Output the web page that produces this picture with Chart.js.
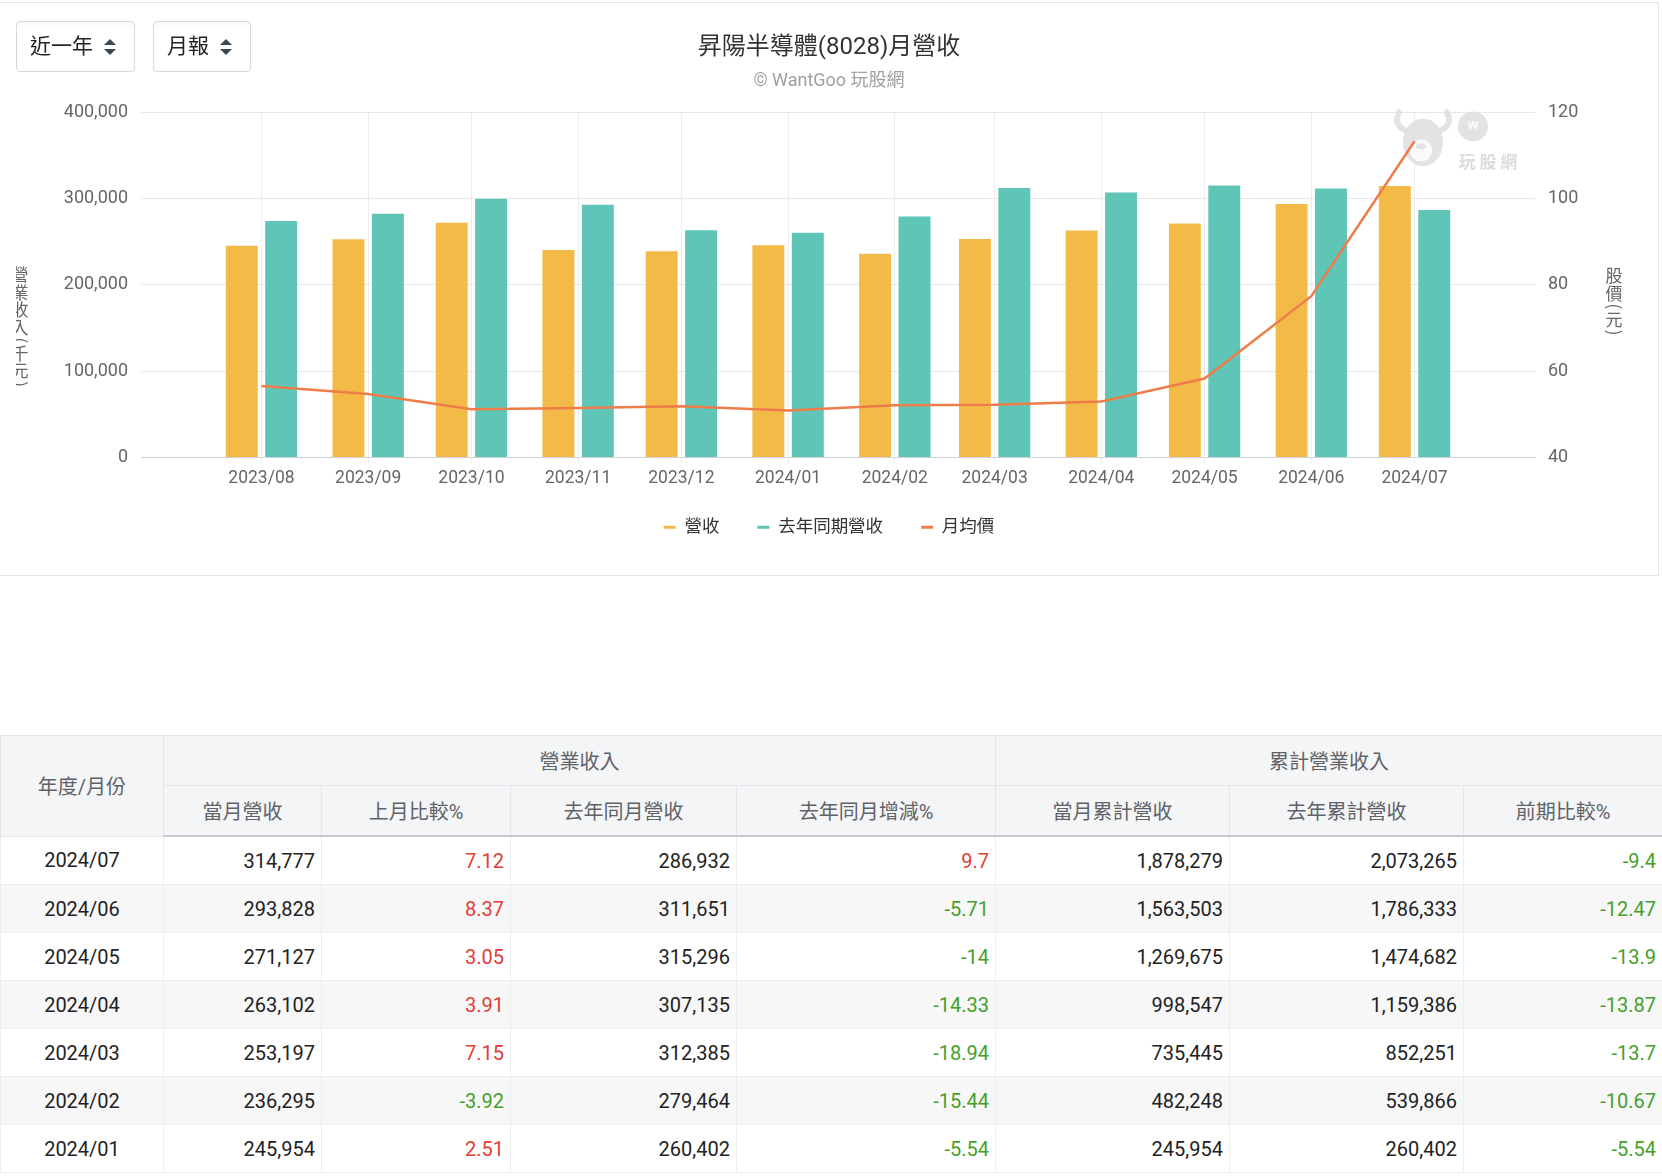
<!DOCTYPE html>
<html lang="zh-Hant">
<head>
<meta charset="utf-8">
<title>昇陽半導體(8028)月營收</title>
<script src="https://cdn.jsdelivr.net/npm/chart.js@4.4.1/dist/chart.umd.min.js"></script>
<style>
  body {
    margin: 0;
    width: 1662px;
    height: 1176px;
    position: relative;
    overflow: hidden;
    background: #fff;
    font-family: Roboto, "Noto Sans CJK TC", sans-serif;
  }
  .card {
    position: absolute;
    left: -1px;
    top: 2px;
    width: 1659px;
    height: 572px;
    border: 1px solid #e3e4e8;
    border-left: none;
  }
  #revChart { position: absolute; left: 0; top: 5px; }
  .sel {
    position: absolute;
    top: 21px;
    height: 51px;
    box-sizing: border-box;
    border: 1px solid #d4d7dc;
    border-radius: 4px;
    background: linear-gradient(#f6f7f8, #fff 14%);
    color: #222;
    font-size: 21px;
    line-height: 49px;
    padding-left: 13px;
  }
  .sel .arrow {
    position: absolute;
    right: 18px;
    top: 17px;
    width: 12px;
    height: 16px;
  }
  .sel .arrow::before, .sel .arrow::after {
    content: "";
    position: absolute;
    left: 0;
    border-left: 6px solid transparent;
    border-right: 6px solid transparent;
  }
  .sel .arrow::before { top: 0; border-bottom: 6px solid #3c4858; }
  .sel .arrow::after { bottom: 0; border-top: 6px solid #3c4858; }
  table {
    position: absolute;
    left: 0;
    top: 735px;
    width: 1662px;
    border-collapse: collapse;
    table-layout: fixed;
    font-size: 20px;
  }
  th {
    background: #f4f5f7;
    color: #5f6368;
    font-weight: normal;
    height: 49px;
    padding: 0;
    border: 1px solid #e3e5e9;
  }
  thead tr:last-child th { border-bottom: 2px solid #c6c9cf; }
  td {
    height: 47px;
    padding: 0 6px 0 0;
    border: 1px solid #eceef1;
    text-align: right;
    color: #222;
  }
  td:first-child { text-align: center; padding: 0; }
  tbody tr:nth-child(even) td { background: #f7f7f8; }
  .up { color: #e23d35; }
  .down { color: #45a02a; }
</style>
</head>
<body>
<div class="card"></div>
<canvas id="revChart" width="1658" height="570"></canvas>
<div class="sel" style="left:16px;width:119px;">近一年<span class="arrow"></span></div>
<div class="sel" style="left:153px;width:98px;">月報<span class="arrow"></span></div>

<table id="revTable">
  <colgroup>
    <col style="width:163px"><col style="width:158px"><col style="width:189px"><col style="width:226px">
    <col style="width:259px"><col style="width:234px"><col style="width:234px"><col style="width:199px">
  </colgroup>
  <thead>
    <tr><th rowspan="2">年度/月份</th><th colspan="4">營業收入</th><th colspan="3">累計營業收入</th></tr>
    <tr><th>當月營收</th><th>上月比較%</th><th>去年同月營收</th><th>去年同月增減%</th><th>當月累計營收</th><th>去年累計營收</th><th>前期比較%</th></tr>
  </thead>
  <tbody></tbody>
</table>

<script>
// chart data (千元 / 元)
const months = ['2023/08', '2023/09', '2023/10', '2023/11', '2023/12', '2024/01',
                '2024/02', '2024/03', '2024/04', '2024/05', '2024/06', '2024/07'];
const revenue = [245500, 253000, 272000, 240500, 239000, 245954,
                 236295, 253197, 263102, 271127, 293828, 314777];
const lastYearRevenue = [274000, 282500, 300000, 293000, 263500, 260402,
                         279464, 312385, 307135, 315296, 311651, 286932];
const avgPrice = [56.6, 54.7, 51.2, 51.5, 51.9, 50.9, 52.1, 52.2, 53.0, 58.3, 77.4, 113.3];

const yTitle = '營業收入(千元)';
const y1Title = '股價(元)';

// table data
const tableMonths = ['2024/07', '2024/06', '2024/05', '2024/04', '2024/03', '2024/02', '2024/01'];
const monthRev = [314777, 293828, 271127, 263102, 253197, 236295, 245954];
const momPct = [7.12, 8.37, 3.05, 3.91, 7.15, -3.92, 2.51];
const lastYearMonthRev = [286932, 311651, 315296, 307135, 312385, 279464, 260402];
const yoyPct = [9.7, -5.71, -14, -14.33, -18.94, -15.44, -5.54];
const cumRev = [1878279, 1563503, 1269675, 998547, 735445, 482248, 245954];
const lastYearCumRev = [2073265, 1786333, 1474682, 1159386, 852251, 539866, 260402];
const cumPct = [-9.4, -12.47, -13.9, -13.87, -13.7, -10.67, -5.54];

// the x axis is a date axis: days since the first month
function dayOf(m) {
  const [y, mo] = m.split('/').map(Number);
  return (Date.UTC(y, mo - 1, 1) - Date.UTC(2023, 7, 1)) / 86400000;
}
const xDays = months.map(dayOf);

Chart.defaults.font.family = 'Roboto, "Noto Sans CJK TC", sans-serif';
Chart.defaults.color = '#666';

function drawVertical(ctx, text, cx, top, size, pitch) {
  ctx.save();
  ctx.font = size + 'px "Noto Sans CJK TC"';
  ctx.fillStyle = '#666';
  ctx.textAlign = 'center';
  ctx.textBaseline = 'middle';
  let y = top;
  for (const ch of text) {
    if (ch === '(' || ch === ')') {
      const w = ctx.measureText(ch).width + 3;
      ctx.save();
      ctx.translate(cx, y + w / 2);
      ctx.rotate(Math.PI / 2);
      ctx.fillText(ch, 0, 0);
      ctx.restore();
      y += w;
    } else {
      ctx.fillText(ch, cx, y + pitch / 2);
      y += pitch;
    }
  }
  ctx.restore();
}

const axisTitles = {
  id: 'axisTitles',
  afterDraw(chart) {
    const { ctx, chartArea } = chart;
    ctx.save();
    ctx.beginPath();
    ctx.rect(16, 0, chart.width, chart.height);
    ctx.clip();
    drawVertical(ctx, yTitle, chartArea.left - 121, 261, 17, 17.5);
    ctx.restore();
    drawVertical(ctx, y1Title, chartArea.right + 79, 262, 17, 17.5);
  }
};

// faint site logo behind the series
const watermark = {
  id: 'watermark',
  beforeDatasetsDraw(chart) {
    const { ctx, chartArea } = chart;
    const x = chartArea.right - 112, y = chartArea.top + 22;
    ctx.save();
    ctx.globalAlpha = 0.85;
    ctx.fillStyle = '#dedede';
    ctx.strokeStyle = '#dedede';
    ctx.lineWidth = 6;
    ctx.lineCap = 'round';
    ctx.beginPath();
    ctx.moveTo(x - 18, y - 4); ctx.quadraticCurveTo(x - 30, y - 10, x - 24, y - 22);
    ctx.moveTo(x + 18, y - 4); ctx.quadraticCurveTo(x + 30, y - 10, x + 24, y - 22);
    ctx.stroke();
    ctx.beginPath();
    ctx.ellipse(x, y + 8, 20, 24, 0, 0, Math.PI * 2);
    ctx.fill();
    ctx.fillStyle = '#fff';
    ctx.beginPath();
    ctx.ellipse(x - 2, y + 16, 11, 11, 0, 0, Math.PI * 2);
    ctx.fill();
    ctx.fillStyle = '#dedede';
    ctx.beginPath();
    ctx.ellipse(x - 2, y + 12, 5, 3, 0, 0, Math.PI * 2);
    ctx.fill();
    ctx.beginPath();
    ctx.arc(x + 50, y - 8, 15, 0, Math.PI * 2);
    ctx.fill();
    ctx.fillStyle = '#fff';
    ctx.font = 'bold 15px Roboto';
    ctx.textAlign = 'center';
    ctx.textBaseline = 'middle';
    ctx.fillText('w', x + 50, y - 9);
    ctx.fillStyle = '#d6d6d6';
    ctx.font = 'bold 17px "Noto Sans CJK TC"';
    ctx.fillText('玩 股 網', x + 65, y + 27);
    ctx.restore();
  }
};

const ctx = document.getElementById('revChart');

new Chart(ctx, {
  data: {
    datasets: [
      {
        type: 'bar',
        label: '營收',
        data: xDays.map((x, i) => ({ x: x, y: revenue[i] })),
        backgroundColor: '#f4ba48',
        yAxisID: 'y',
        order: 1,
        categoryPercentage: 0.79,
        barPercentage: 0.81
      },
      {
        type: 'bar',
        label: '去年同期營收',
        data: xDays.map((x, i) => ({ x: x, y: lastYearRevenue[i] })),
        backgroundColor: '#5fc5b6',
        yAxisID: 'y',
        order: 1,
        categoryPercentage: 0.79,
        barPercentage: 0.81
      },
      {
        type: 'line',
        label: '月均價',
        data: xDays.map((x, i) => ({ x: x, y: avgPrice[i] })),
        borderColor: '#ee7d4a',
        backgroundColor: '#ee7d4a',
        borderWidth: 2.5,
        pointRadius: 0,
        tension: 0,
        yAxisID: 'y1',
        order: 0
      }
    ]
  },
  options: {
    responsive: false,
    animation: false,
    layout: { padding: { left: 0, right: 0, top: 0, bottom: 29 } },
    scales: {
      x: {
        type: 'linear',
        offset: false,
        min: -35,
        max: 370,
        afterBuildTicks: axis => { axis.ticks = xDays.map(v => ({ value: v })); },
        afterFit: axis => {
          axis.height = 23;
          // labels sit below the thin axis box, so don't clip them to it
          axis._computeLabelArea = () => null;
        },
        ticks: {
          autoSkip: false,
          maxRotation: 0,
          padding: 5,
          color: '#666',
          font: { size: 17.5 },
          callback: (value, index) => months[index]
        },
        grid: { color: '#ededed', tickLength: 6, offset: false },
        border: { color: '#cfd3d9' }
      },
      y: {
        position: 'left',
        min: 0,
        max: 400000,
        afterFit: axis => { axis.width = 141; },
        ticks: {
          stepSize: 100000,
          padding: 13,
          color: '#666',
          font: { size: 18 },
          callback: v => v.toLocaleString('en-US')
        },
        grid: { color: '#e8e8e8', drawTicks: false },
        border: { display: false }
      },
      y1: {
        position: 'right',
        min: 40,
        max: 120,
        afterFit: axis => { axis.width = 123; },
        ticks: { stepSize: 20, padding: 13, color: '#666', font: { size: 18 } },
        grid: { display: false, drawTicks: false },
        border: { display: false }
      }
    },
    plugins: {
      title: {
        display: true,
        text: '昇陽半導體(8028)月營收',
        color: '#333',
        font: { size: 24, weight: 'normal' },
        padding: { top: 29, bottom: 0 }
      },
      subtitle: {
        display: true,
        text: '© WantGoo 玩股網',
        color: '#a0a0a0',
        font: { size: 18 },
        padding: { top: 8, bottom: 20 }
      },
      legend: {
        position: 'bottom',
        labels: {
          usePointStyle: true,
          pointStyleWidth: 12,
          padding: 38,
          color: '#333',
          font: { size: 17.5 },
          sort: (a, b) => a.datasetIndex - b.datasetIndex,
          generateLabels: chart => {
            const items = Chart.defaults.plugins.legend.labels.generateLabels(chart);
            items.forEach(item => {
              const ds = chart.data.datasets[item.datasetIndex];
              const c = ds.type === 'line' ? ds.borderColor : ds.backgroundColor;
              item.pointStyle = 'line';
              item.strokeStyle = c;
              item.fillStyle = c;
              item.lineWidth = 3;
            });
            return items;
          }
        }
      },
      tooltip: { enabled: false }
    }
  },
  plugins: [watermark, axisTitles]
});

// table
function pctCell(v) {
  return '<td class="' + (v >= 0 ? 'up' : 'down') + '">' + v + '</td>';
}
const fmt = v => v.toLocaleString('en-US');
const tbody = document.querySelector('#revTable tbody');
let rows = '';
tableMonths.forEach((m, i) => {
  rows += '<tr><td>' + m + '</td>' +
    '<td>' + fmt(monthRev[i]) + '</td>' + pctCell(momPct[i]) +
    '<td>' + fmt(lastYearMonthRev[i]) + '</td>' + pctCell(yoyPct[i]) +
    '<td>' + fmt(cumRev[i]) + '</td>' +
    '<td>' + fmt(lastYearCumRev[i]) + '</td>' + pctCell(cumPct[i]) + '</tr>';
});
tbody.innerHTML = rows;
</script>
</body>
</html>
